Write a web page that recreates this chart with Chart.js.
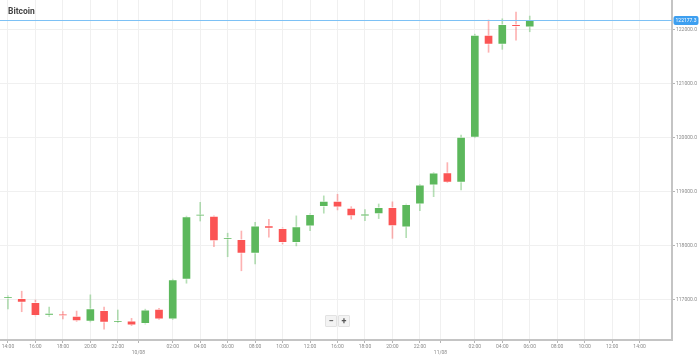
<!DOCTYPE html>
<html>
<head>
<meta charset="utf-8">
<script src="https://cdn.jsdelivr.net/npm/chart.js@4.4.1/dist/chart.umd.min.js"></script>
<style>
  html,body{margin:0;padding:0;background:#fff;}
  #wrap{position:relative;width:699px;height:359px;}
  #zoomBtns{position:absolute;left:325px;top:315px;display:flex;gap:1px;}
  #zoomBtns span{display:block;width:10px;height:10px;line-height:10px;text-align:center;font:bold 9px Roboto, sans-serif;color:#555;background:#f3f3f3;border:1px solid #e2e2e2;border-radius:1px;}
</style>
</head>
<body>
<div id="wrap">
<canvas id="c" width="699" height="359"></canvas>
<div id="zoomBtns"><span>−</span><span>+</span></div>
</div>
<script>
// Hourly candles (ordinal index = position on the axis)
const times  = ['14:00','15:00','16:00','17:00','18:00','19:00','20:00','21:00','22:00','23:00',
                '00:00','01:00','02:00','03:00','04:00','05:00','06:00','07:00','08:00','09:00','10:00','11:00','12:00','13:00',
                '16:00','17:00','18:00','19:00','20:00','21:00','22:00','23:00',
                '00:00','01:00','02:00','03:00','04:00','05:00','06:00'];
const opens  = [117020,117025,116952,116710,116740,116695,116600,116805,116580,116610,
                116555,116825,116640,117375,118545,118548,118115,118117,117858,118370,118320,118055,118360,118720,
                118825,118695,118545,118585,118710,118340,118765,119120,
                119350,119170,120000,121895,121720,122090,122040];
const highs  = [117070,117157,116995,116865,116780,116790,117090,116865,116810,116655,
                116825,116840,117380,118545,118800,118550,118230,118270,118430,118487,118330,118550,118590,118920,
                118950,118720,118665,118770,118810,118770,119130,119350,
                119535,120045,121910,122172,122195,122320,122245];
const lows   = [116830,116778,116700,116690,116645,116600,116590,116455,116575,116520,
                116550,116635,116635,117305,118455,117980,117795,117535,117660,118155,118030,117995,118275,118600,
                118660,118490,118460,118500,118135,118145,118645,118905,
                119165,119030,119995,121575,121630,121800,121955];
const closes = [117030,116952,116705,116755,116700,116610,116835,116580,116605,116530,
                116815,116640,117370,118535,118550,118085,118120,117858,118368,118320,118055,118350,118580,118825,
                118710,118550,118590,118710,118365,118765,119125,119345,
                119170,120005,121895,121720,122090,122050,122177.3];
// x-axis ticks (positions on the ordinal axis) and their labels
const xTickPos    = [0,2,4,6,8,9.5,12,14,16,18,20,22,24,26,28,30,31.5,34,36,38,40,42,44,46];
const xTickLabels = ['14:00','16:00','18:00','20:00','22:00','10/08','02:00','04:00','06:00','08:00','10:00','12:00',
                     '16:00','18:00','20:00','22:00','11/08','02:00','04:00','06:00','08:00','10:00','12:00','14:00'];
const dateTicks   = ['10/08','11/08'];
const yTicks      = [117000,118000,119000,120000,121000,122000];
const title = 'Bitcoin';

const GREEN = '#5cb85c', RED = '#fb5454';
const GREEN_W = 'rgba(92,184,92,0.45)', RED_W = 'rgba(251,84,84,0.45)';
const up = i => closes[i] >= opens[i];

const bodies = opens.map((o,i)=>({x:i, y:[o, closes[i]]}));
const wicks  = lows.map((l,i)=>({x:i, y:[l, highs[i]]}));

const overlay = {
  id:'overlay',
  afterDraw(chart){
    const {ctx, chartArea, scales} = chart;
    ctx.save();
    // title
    ctx.font = 'bold 8.5px Roboto, sans-serif';
    ctx.fillStyle = '#444';
    ctx.textBaseline = 'middle';
    ctx.fillText(title, 8, 11.5);
    // current price line + label
    const last = closes[closes.length-1];
    const y = Math.round(scales.y.getPixelForValue(last)) + 0.5;
    ctx.strokeStyle = '#7dc1f5';
    ctx.lineWidth = 1;
    ctx.beginPath(); ctx.moveTo(chartArea.left, y); ctx.lineTo(chartArea.right, y); ctx.stroke();
    const bx = chartArea.right + 1.5, bw = 25, bh = 9;
    ctx.fillStyle = '#3d9ff0';
    ctx.beginPath();
    ctx.roundRect(bx, y - bh/2, bw, bh, 2);
    ctx.fill();
    ctx.fillStyle = '#fff';
    ctx.font = '5px Roboto, sans-serif';
    ctx.textAlign = 'center';
    ctx.fillText(last.toFixed(1), bx + bw/2, y + 0.3);
    ctx.restore();
  }
};

new Chart(document.getElementById('c'), {
  type:'bar',
  data:{
    datasets:[
      {data:wicks, barThickness:1, backgroundColor:ctx=>up(ctx.dataIndex)?GREEN_W:RED_W, borderWidth:0, order:2},
      {data:bodies, barThickness:9, minBarLength:2,
       backgroundColor:ctx=>up(ctx.dataIndex)?GREEN:RED,
       borderColor:'rgba(255,255,255,0.55)', borderWidth:1, borderSkipped:false, order:1}
    ]
  },
  options:{
    responsive:false,
    animation:false,
    layout:{padding:0},
    plugins:{legend:{display:false}, tooltip:{enabled:false}},
    datasets:{bar:{grouped:false}},
    scales:{
      x:{
        type:'linear', min:-0.58, max:48.36, offset:false,
        afterBuildTicks:s=>{ s.ticks = xTickPos.map(v=>({value:v})); },
        afterFit:s=>{ s.height = 19; s.paddingLeft = 0; s.paddingRight = 0; },
        ticks:{
          autoSkip:false, maxRotation:0, padding:1,
          font:{size:5, family:'Roboto, sans-serif'}, color:'#8a8a8a',
          callback:(v,i)=>{ const l = xTickLabels[i]; return dateTicks.includes(l) ? ['', l] : l; }
        },
        grid:{offset:false, color:'#f0f0f0', tickColor:'#b5b5b5', tickLength:3},
        border:{color:'#c4c4c4', width:2}
      },
      y:{
        position:'right', min:116255, max:122542,
        afterBuildTicks:s=>{ s.ticks = yTicks.map(v=>({value:v})); },
        afterFit:s=>{ s.width = 27; s.paddingTop = 0; s.paddingBottom = 0; },
        ticks:{font:{size:5, family:'Roboto, sans-serif'}, color:'#8a8a8a', padding:1,
               callback:v=>Number(v).toFixed(1)},
        grid:{color:'#f0f0f0', tickColor:'#b5b5b5', tickLength:3},
        border:{color:'#c4c4c4', width:2}
      }
    }
  },
  plugins:[overlay]
});
</script>
</body>
</html>
